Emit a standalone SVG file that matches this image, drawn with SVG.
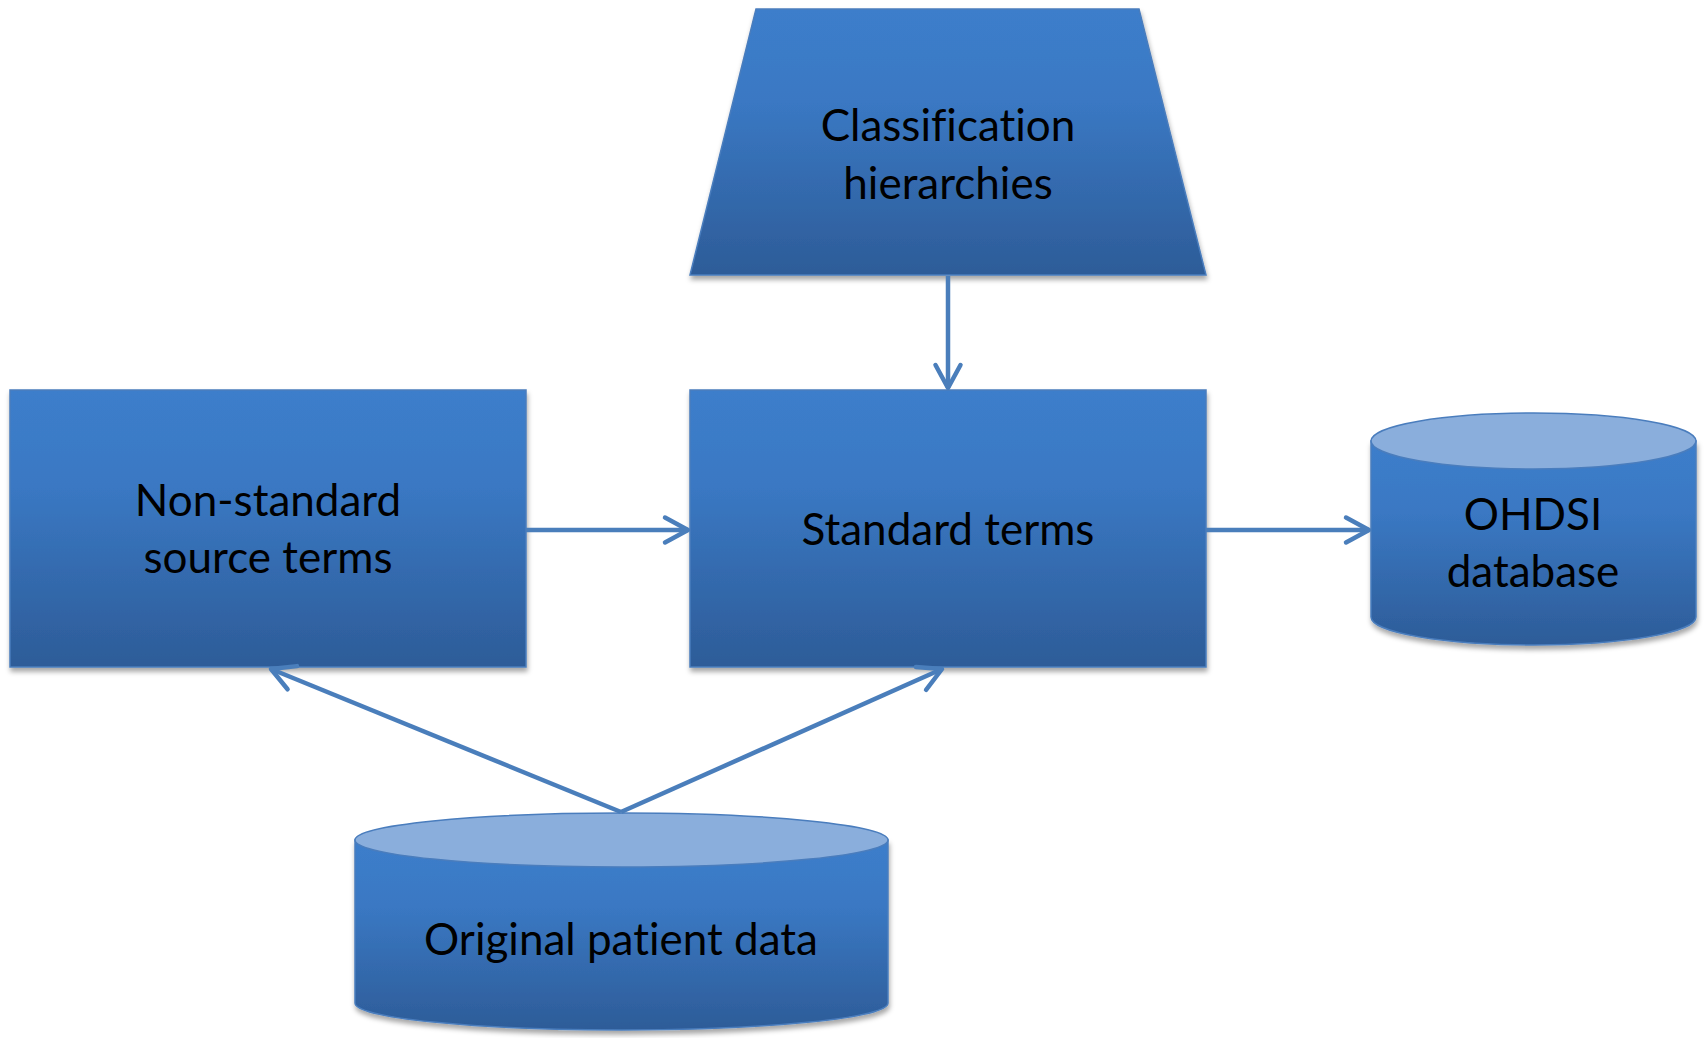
<svg xmlns="http://www.w3.org/2000/svg" width="1704" height="1038" viewBox="0 0 1704 1038">
<defs>
<linearGradient id="g" x1="0" y1="0" x2="0" y2="1">
<stop offset="0" stop-color="#3C7ECB"/>
<stop offset="0.35" stop-color="#3A78C3"/>
<stop offset="1" stop-color="#2D5C98"/>
</linearGradient>
<filter id="sh" x="-5%" y="-5%" width="110%" height="115%">
<feDropShadow dx="1" dy="4" stdDeviation="2.5" flood-color="#000" flood-opacity="0.35"/>
</filter>
<marker id="ah" markerUnits="userSpaceOnUse" markerWidth="32" markerHeight="32" viewBox="-28 -16 32 32" refX="0" refY="0" orient="auto">
<path d="M-23,-12.5 L0,0 L-23,12.5" fill="none" stroke="#4A7EBB" stroke-width="4.5" stroke-linecap="round" stroke-linejoin="round"/>
</marker>
</defs>
<style>
.shape{fill:url(#g);stroke:#4A7DBD;stroke-width:1.5;filter:url(#sh)}
.top{fill:#8AAEDC;stroke:#4A7DBD;stroke-width:1.5}
.lbl{font-family:Lato,"Open Sans","Liberation Sans",sans-serif;font-size:44px;fill:#000;text-anchor:middle;font-variant-ligatures:none;font-feature-settings:"liga" 0}
.conn{stroke:#4A7EBB;stroke-width:4.5;fill:none;marker-end:url(#ah)}
</style>
<rect width="1704" height="1038" fill="#fff"/>
<g id="classification">
<polygon class="shape" points="756,9 1139,9 1206,275 690,275"/>
<text class="lbl" x="948" y="141">Classification</text>
<text class="lbl" x="948" y="199">hierarchies</text>
</g>
<g id="nonstandard">
<rect class="shape" x="10" y="390" width="516" height="277"/>
<text class="lbl" x="268" y="516">Non-standard</text>
<text class="lbl" x="268" y="573">source terms</text>
</g>
<g id="standard">
<rect class="shape" x="690" y="390" width="516" height="277"/>
<text class="lbl" x="948" y="545">Standard terms</text>
</g>
<g id="ohdsi">
<path class="shape" d="M1371,441 L1371,617 A162.5,28 0 0 0 1696,617 L1696,441 Z"/>
<ellipse class="top" cx="1533.5" cy="441" rx="162.5" ry="28"/>
<text class="lbl" x="1533" y="530">OHDSI</text>
<text class="lbl" x="1533" y="587">database</text>
</g>
<g id="patient">
<path class="shape" d="M355,840 L355,1003 A266.5,27 0 0 0 888,1003 L888,840 Z"/>
<ellipse class="top" cx="621.5" cy="840" rx="266.5" ry="27"/>
<text class="lbl" x="621" y="955">Original patient data</text>
</g>
<g id="connectors">
<line class="conn" x1="948" y1="276" x2="948" y2="388"/>
<line class="conn" x1="526" y1="530" x2="688" y2="530"/>
<line class="conn" x1="1206" y1="530" x2="1369" y2="530"/>
<line class="conn" x1="621" y1="812" x2="271" y2="669"/>
<line class="conn" x1="621" y1="812" x2="942" y2="669"/>
</g>
</svg>
